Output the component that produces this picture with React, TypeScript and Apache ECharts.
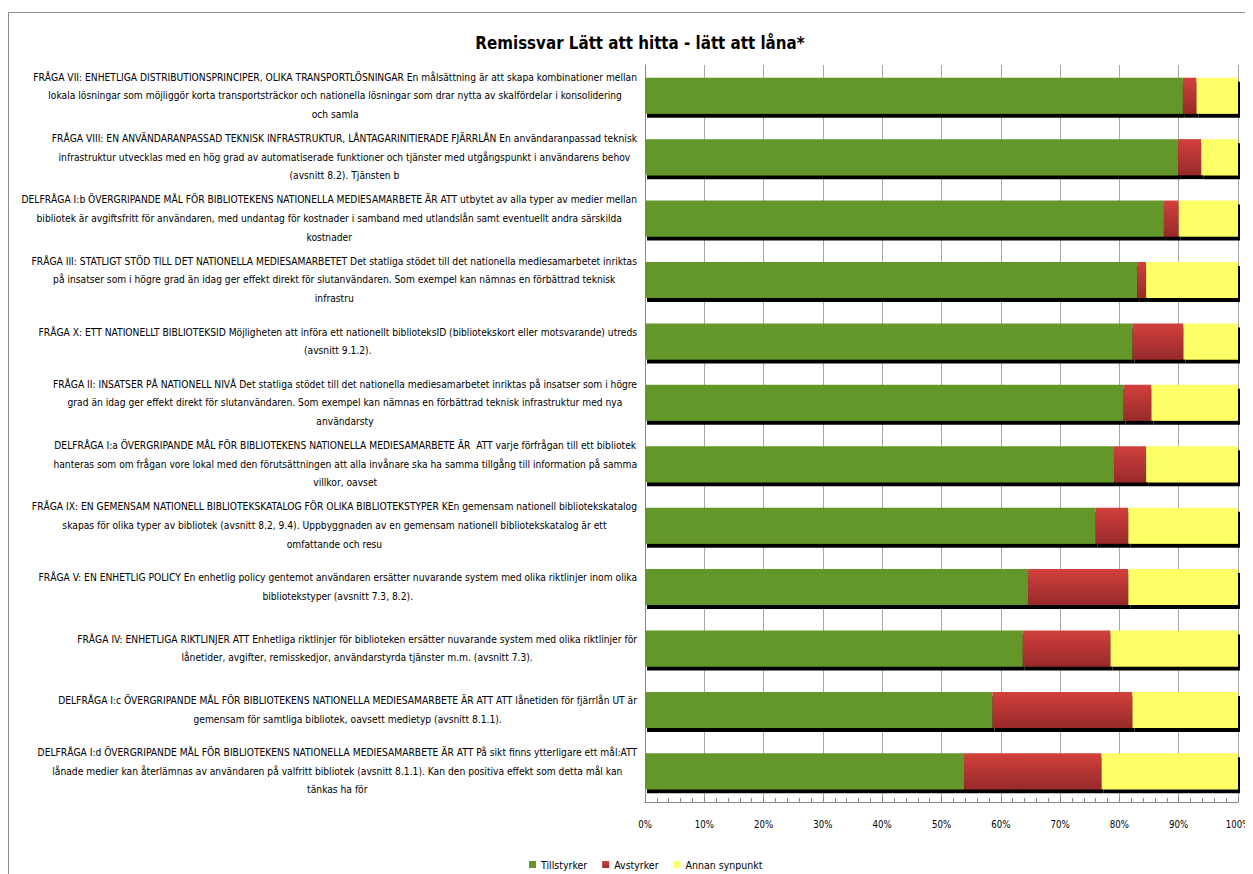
import React, { useEffect, useRef } from "react";
import * as echarts from "echarts";

const categories: string[] = [
  "FRÅGA VII: ENHETLIGA DISTRIBUTIONSPRINCIPER, OLIKA TRANSPORTLÖSNINGAR En målsättning är att skapa kombinationer mellan\nlokala lösningar som möjliggör korta transportsträckor och nationella lösningar som drar nytta av skalfördelar i konsolidering\noch samla",
  "FRÅGA VIII: EN ANVÄNDARANPASSAD TEKNISK INFRASTRUKTUR, LÅNTAGARINITIERADE FJÄRRLÅN En användaranpassad teknisk\ninfrastruktur utvecklas med en hög grad av automatiserade funktioner och tjänster med utgångspunkt i användarens behov\n(avsnitt 8.2). Tjänsten b",
  "DELFRÅGA I:b ÖVERGRIPANDE MÅL FÖR BIBLIOTEKENS NATIONELLA MEDIESAMARBETE ÄR ATT utbytet av alla typer av medier mellan\nbibliotek är avgiftsfritt för användaren, med undantag för kostnader i samband med utlandslån samt eventuellt andra särskilda\nkostnader",
  "FRÅGA III: STATLIGT STÖD TILL DET NATIONELLA MEDIESAMARBETET Det statliga stödet till det nationella mediesamarbetet inriktas\npå insatser som i högre grad än idag ger effekt direkt för slutanvändaren. Som exempel kan nämnas en förbättrad teknisk\ninfrastru",
  "FRÅGA X: ETT NATIONELLT BIBLIOTEKSID Möjligheten att införa ett nationellt biblioteksID (bibliotekskort eller motsvarande) utreds\n(avsnitt 9.1.2).",
  "FRÅGA II: INSATSER PÅ NATIONELL NIVÅ Det statliga stödet till det nationella mediesamarbetet inriktas på insatser som i högre\ngrad än idag ger effekt direkt för slutanvändaren. Som exempel kan nämnas en förbättrad teknisk infrastruktur med nya\nanvändarsty",
  "DELFRÅGA I:a ÖVERGRIPANDE MÅL FÖR BIBLIOTEKENS NATIONELLA MEDIESAMARBETE ÄR  ATT varje förfrågan till ett bibliotek\nhanteras som om frågan vore lokal med den förutsättningen att alla invånare ska ha samma tillgång till information på samma\nvillkor, oavset",
  "FRÅGA IX: EN GEMENSAM NATIONELL BIBLIOTEKSKATALOG FÖR OLIKA BIBLIOTEKSTYPER KEn gemensam nationell bibliotekskatalog\nskapas för olika typer av bibliotek (avsnitt 8.2, 9.4). Uppbyggnaden av en gemensam nationell bibliotekskatalog är ett\nomfattande och resu",
  "FRÅGA V: EN ENHETLIG POLICY En enhetlig policy gentemot användaren ersätter nuvarande system med olika riktlinjer inom olika\nbibliotekstyper (avsnitt 7.3, 8.2).",
  "FRÅGA IV: ENHETLIGA RIKTLINJER ATT Enhetliga riktlinjer för biblioteken ersätter nuvarande system med olika riktlinjer för\nlånetider, avgifter, remisskedjor, användarstyrda tjänster m.m. (avsnitt 7.3).",
  "DELFRÅGA I:c ÖVERGRIPANDE MÅL FÖR BIBLIOTEKENS NATIONELLA MEDIESAMARBETE ÄR ATT ATT lånetiden för fjärrlån UT är\ngemensam för samtliga bibliotek, oavsett medietyp (avsnitt 8.1.1).",
  "DELFRÅGA I:d ÖVERGRIPANDE MÅL FÖR BIBLIOTEKENS NATIONELLA MEDIESAMARBETE ÄR ATT På sikt finns ytterligare ett mål:ATT\nlånade medier kan återlämnas av användaren på valfritt bibliotek (avsnitt 8.1.1). Kan den positiva effekt som detta mål kan\ntänkas ha för",
];

const tillstyrker: number[] = [90.7, 89.9, 87.5, 83.0, 82.2, 80.7, 79.1, 76.0, 64.6, 63.7, 58.6, 53.8];
const avstyrker: number[] = [2.3, 3.9, 2.5, 1.5, 8.6, 4.7, 5.4, 5.5, 16.9, 14.8, 23.6, 23.2];
const annanSynpunkt: number[] = [7.0, 6.2, 10.0, 15.5, 9.2, 14.6, 15.5, 18.5, 18.5, 21.5, 17.8, 23.0];

const seriesNames: string[] = ["Tillstyrker", "Avstyrker", "Annan synpunkt"];
const xTickValues: number[] = [0, 10, 20, 30, 40, 50, 60, 70, 80, 90, 100];

const TITLE = "Remissvar Lätt att hitta - lätt att låna*";
const FONT = "'DejaVu Sans Condensed', 'Liberation Sans Narrow', sans-serif";

export default function App() {
  const ref = useRef<HTMLDivElement>(null);
  useEffect(() => {
    if (!ref.current) return;
    document.documentElement.style.overflow = "hidden";
    document.body.style.overflow = "hidden";
    const chart = echarts.init(ref.current, undefined, { renderer: "svg" });
    const shadow = {
      shadowColor: "#000",
      shadowBlur: 0,
      shadowOffsetX: 2,
      shadowOffsetY: 4,
    };
    const redGrad = new echarts.graphic.LinearGradient(0, 0, 0, 1, [
      { offset: 0, color: "#D2403C" },
      { offset: 1, color: "#982A2A" },
    ]);
    chart.setOption({
      animation: false,
      backgroundColor: "#fff",
      title: {
        text: TITLE,
        left: 627,
        top: 21,
        textAlign: "center",
        textStyle: { fontFamily: FONT, fontSize: 16.8, fontWeight: "bold", color: "#000" },
      },
      legend: {
        data: seriesNames,
        left: 521,
        top: 851,
        padding: 0,
        icon: "rect",
        itemWidth: 7,
        itemHeight: 7,
        itemGap: 15,
        textStyle: { fontFamily: FONT, fontSize: 10.5, color: "#000" },
      },
      graphic: [
        {
          type: "rect",
          shape: { x: 0.5, y: 4.5, width: 1300, height: 1000 },
          style: { fill: "none", stroke: "#8c8c8c", lineWidth: 1 },
          silent: true,
          z: -10,
        },
      ],
      grid: { left: 637, right: 15, top: 57, height: 737, containLabel: false, outerBoundsMode: "none" },
      xAxis: {
        type: "value",
        min: 0,
        max: 100,
        interval: 10,
        axisLine: { show: true, lineStyle: { color: "#888", width: 1 } },
        axisTick: { show: true, inside: true, length: 5, lineStyle: { color: "#888" } },
        minorTick: { show: true, splitNumber: 5, length: 4, lineStyle: { color: "#888" } },
        splitLine: { show: true, lineStyle: { color: "#a6a6a6", width: 1 } },
        axisLabel: {
          margin: 17,
          color: "#000",
          fontFamily: FONT,
          fontSize: 9.6,
          customValues: xTickValues,
          formatter: (v: number) => `${v}%`,
        },
      },
      yAxis: {
        type: "category",
        data: categories,
        inverse: true,
        axisLine: { show: true, lineStyle: { color: "#888", width: 1 } },
        axisTick: { show: false },
        axisLabel: {
          margin: 8,
          interval: 0,
          align: "right",
          formatter: (v: string) =>
            v
              .split("\n")
              .map((l) => `{c|${l}}`)
              .join("\n"),
          rich: {
            c: {
              align: "center",
              fontFamily: FONT,
              fontSize: 10.2,
              lineHeight: 18.7,
              color: "#000",
            },
          },
        },
      },
      series: [
        {
          name: seriesNames[0],
          type: "bar",
          stack: "total",
          barWidth: 36,
          data: tillstyrker,
          itemStyle: { color: "#64972A", ...shadow },
        },
        {
          name: seriesNames[1],
          type: "bar",
          stack: "total",
          barWidth: 36,
          data: avstyrker,
          itemStyle: { color: redGrad, ...shadow },
        },
        {
          name: seriesNames[2],
          type: "bar",
          stack: "total",
          barWidth: 36,
          data: annanSynpunkt,
          itemStyle: { color: "#FFFF66", ...shadow },
        },
      ],
    });
    return () => chart.dispose();
  }, []);
  return <div ref={ref} style={{ width: 1245, height: 866 }} />;
}
